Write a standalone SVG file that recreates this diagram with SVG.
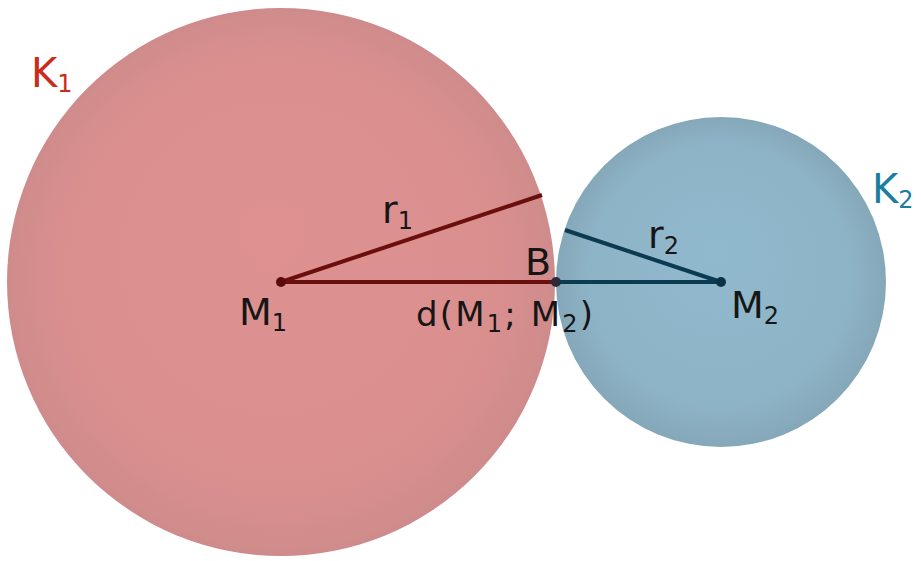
<svg xmlns="http://www.w3.org/2000/svg" width="921" height="561" viewBox="0 0 921 561">
  <defs>
    <radialGradient id="g1" cx="0.5" cy="0.5" r="0.5" fx="0.48" fy="0.4">
      <stop offset="0" stop-color="#df9191"/>
      <stop offset="0.8" stop-color="#da8f8f"/>
      <stop offset="1" stop-color="#cf8b8b"/>
    </radialGradient>
    <radialGradient id="g2" cx="0.5" cy="0.5" r="0.5" fx="0.48" fy="0.4">
      <stop offset="0" stop-color="#91b9cd"/>
      <stop offset="0.8" stop-color="#8db3c6"/>
      <stop offset="1" stop-color="#85a8b9"/>
    </radialGradient>
    <style>
      text { font-family: "DejaVu Sans", "Liberation Sans", sans-serif; }
      .lbl { font-size: 38px; fill: #161616; }
      .sub { font-size: 24px; }
      .red { stroke: #6a0e0e; stroke-width: 4; fill: none; }
      .blue { stroke: #0c3a50; stroke-width: 4; fill: none; }
    </style>
  </defs>

  <g id="K1">
    <circle cx="281" cy="282" r="274" fill="url(#g1)"/>
    <text x="31" y="87" style="font-size:40px" fill="#cc2a1a">K<tspan class="sub" dy="5">1</tspan></text>
  </g>
  <g id="K2">
    <circle cx="721" cy="282" r="165" fill="url(#g2)"/>
    <text x="872" y="203" style="font-size:40px" fill="#1b7ea0">K<tspan class="sub" dy="5">2</tspan></text>
  </g>

  <g id="connectors">
    <line class="red" x1="281" y1="282" x2="542" y2="195"/>
    <line class="red" x1="281" y1="282" x2="556" y2="282"/>
    <line class="blue" x1="556" y1="282" x2="721" y2="282"/>
    <line class="blue" x1="565" y1="230" x2="721" y2="282"/>
  </g>

  <g id="M1">
    <circle cx="281" cy="282" r="5" fill="#5a0a0a"/>
    <text class="lbl" x="239" y="325">M<tspan class="sub" dy="6">1</tspan></text>
  </g>
  <g id="B">
    <circle cx="556" cy="282" r="5" fill="#2a2a3a"/>
    <text class="lbl" x="525" y="275">B</text>
  </g>
  <g id="M2">
    <circle cx="721" cy="282" r="5" fill="#0b3347"/>
    <text class="lbl" x="731" y="318">M<tspan class="sub" dy="6">2</tspan></text>
  </g>
  <g id="labels">
    <text class="lbl" x="382" y="223">r<tspan class="sub" dy="6">1</tspan></text>
    <text class="lbl" x="648" y="248">r<tspan class="sub" dy="6">2</tspan></text>
    <text class="lbl" x="416" y="326" style="font-size:34px" textLength="177" lengthAdjust="spacing">d(M<tspan class="sub" dy="6">1</tspan><tspan dy="-6">; M</tspan><tspan class="sub" dy="6">2</tspan><tspan dy="-6">)</tspan></text>
  </g>
</svg>
